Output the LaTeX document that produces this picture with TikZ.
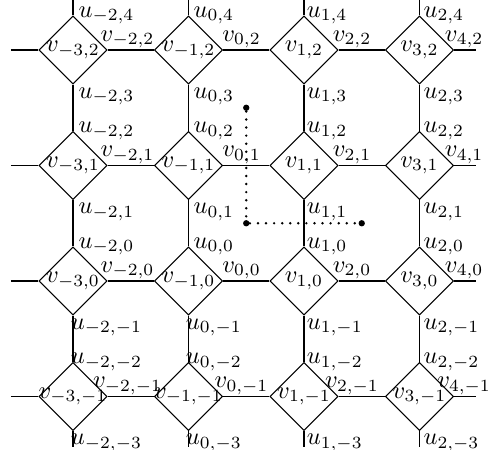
\documentclass[tikz,border=0pt]{standalone}
\usepackage{amsmath}
\usepackage{tikz}
\usetikzlibrary{shapes.geometric,calc}
\tikzset{
  latdiamond/.style={
    diamond, draw=black, line width=0.4pt, aspect=1,
    minimum size=0.98cm, inner sep=0pt
  },
  latedgeh/.style={draw=black, line width=0.8pt},
  latedgev/.style={draw=black, line width=0.5pt},
  latlabel/.style={inner sep=1pt},
  duallabel/.style={inner sep=0.5pt, anchor=south},
  dualdot/.style={circle, fill=black, inner sep=0pt, minimum size=2.6pt},
  dualpath/.style={draw=black, line width=1.1pt, line cap=round, dash pattern=on 0pt off 3.3pt},
}

\begin{document}
\begin{tikzpicture}[x=1.66cm, y=1.66cm]
  \useasboundingbox (-0.632,-3.463) rectangle (3.602,0.433);
  \foreach \r/\j in {0/2,1/1,2/0,3/-1}
    \foreach \c/\vi in {0/-3,1/-1,2/1,3/3}
      \node (d\c\r) [latdiamond, label={center:$v_{\vi,\j}$}] at (\c,-\r) {};
  \foreach \r in {0,...,3} {
    \coordinate (hl\r) at (-0.537,-\r);
    \coordinate (hr\r) at (3.489,-\r);
    \draw[latedgeh] (hl\r) -- (d0\r.west);
    \foreach \c [evaluate=\c as \n using int(\c+1)] in {0,1,2}
      \draw[latedgeh] (d\c\r.east) -- (d\n\r.west);
    \draw[latedgeh] (d3\r.east) -- (hr\r);
  }
  \foreach \c in {0,...,3} {
    \coordinate (vt\c) at (\c,0.433);
    \coordinate (vb\c) at (\c,-3.437);
    \draw[latedgev] (vt\c) -- (d\c0.north);
    \foreach \r [evaluate=\r as \n using int(\r+1)] in {0,1,2}
      \draw[latedgev] (d\c\r.south) -- (d\c\n.north);
    \draw[latedgev] (d\c3.south) -- (vb\c);
  }
  \foreach \c/\ui/\ta/\ba/\uo in {0/-2/center/north/0.29, 1/0/center/north/0.22,
                                  2/1/west/north west/0, 3/2/west/north west/0.01}
    \foreach \r/\ut/\ub in {0/4/3, 1/2/1, 2/0/-1, 3/-2/-3} {
      \node (ut\c\r) [latlabel, anchor=\ta] at ($(d\c\r.north)+(\uo,0)$) {$u_{\ui,\ut}$};
      \node (ub\c\r) [latlabel, anchor=\ba] at ($(d\c\r.south)+(\uo,0)$) {$u_{\ui,\ub}$};
    }
  \foreach \c/\wi/\wo in {0/-2/0.173, 1/0/0.16, 2/2/0.117, 3/4/0.087}
    \foreach \r/\j in {0/2,1/1,2/0,3/-1}
      \node (w\c\r) [duallabel] at ($(d\c\r.east)+(\wo,0)$) {$v_{\wi,\j}$};
  \node (p1) [dualdot] at (1.5,-0.5) {};
  \node (p2) [dualdot] at (1.5,-1.5) {};
  \node (p3) [dualdot] at (2.5,-1.5) {};
  \draw[dualpath] (p1) -- (p2) -- (p3);
\end{tikzpicture}
\end{document}
